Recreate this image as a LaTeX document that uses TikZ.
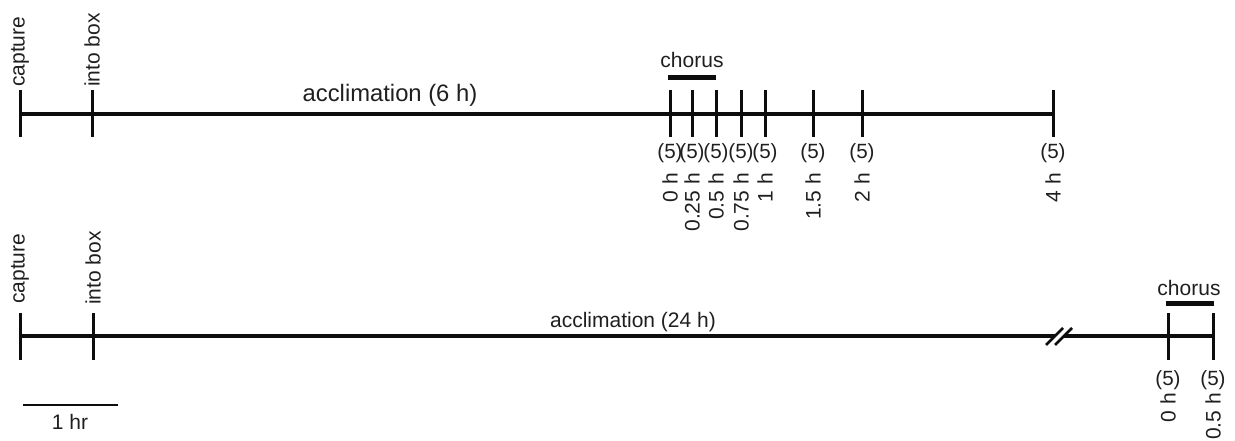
\documentclass[tikz,border=0pt]{standalone}
\usepackage{fontspec}
\setmainfont{Liberation Sans}
\begin{document}
\begin{tikzpicture}[x=1pt,y=-1pt,
  ink/.style={draw=black!95},
  axis/.style={ink,line width=3.2pt},
  tickmark/.style={ink,line width=3pt},
  bar/.style={ink,line width=5pt},
  scalebar/.style={ink,line width=2.2pt},
  brk/.style={ink,line width=2.8pt},
  lbl/.style={text=black!88,font=\fontsize{21}{25}\selectfont,inner sep=0pt},
  biglbl/.style={lbl,font=\fontsize{23.8}{28}\selectfont},
  vlbl/.style={lbl,rotate=90},
  count/.style={lbl,anchor=base,font=\fontsize{20.6}{25}\selectfont},
  tlbl/.style={vlbl,anchor=east}]
\useasboundingbox (0,0) rectangle (1235,441);

% ---------- upper timeline: 6 h acclimation ----------
\coordinate (uA) at (20,114);
\coordinate (uB) at (1053,114);
\draw[axis] (uA) -- (uB);
\foreach \x in {20,92,670,692,716,741,765,813,862,1053}
  \draw[tickmark] (\x,90) -- (\x,137);

\node[vlbl,anchor=west] (ucap) at (20,87) {capture};
\node[vlbl,anchor=west] (ubox) at (92,87) {into box};
\node[biglbl,anchor=base] (uacc) at (390,101.5) {acclimation (6 h)};

\coordinate (uch0) at (668,78);
\coordinate (uch1) at (716,78);
\draw[bar] (uch0) -- (uch1);
\node[lbl,anchor=base] (uchorus) at (692,68) {chorus};

\foreach \x/\t [count=\i] in {670/0 h,692/0.25 h,716/0.5 h,741/0.75 h,765/1 h,813/1.5 h,862/2 h,1053/4 h}{
  \node[count] (un\i) at (\x,159) {(5)};
  \node[tlbl] (ut\i) at (\x,173) {\t};
}

% ---------- lower timeline: 24 h acclimation ----------
\coordinate (lA) at (20,336);
\coordinate (lB1) at (1054.5,336);
\coordinate (lB2) at (1063.5,336);
\coordinate (lC) at (1213,336);
\draw[axis] (lA) -- (lB1);
\draw[axis] (lB2) -- (lC);
% axis break
\draw[brk] (1046,345) -- (1063,328);
\draw[brk] (1055,345) -- (1072,328);

\foreach \x in {20,93,1168,1213}
  \draw[tickmark] (\x,313) -- (\x,360);

\node[vlbl,anchor=west] (lcap) at (20,304) {capture};
\node[vlbl,anchor=west] (lbox) at (93,305) {into box};
\node[lbl,anchor=base] (lacc) at (633,327) {acclimation (24 h)};

\coordinate (lch0) at (1166,303);
\coordinate (lch1) at (1214,303);
\draw[bar] (lch0) -- (lch1);
\node[lbl,anchor=base] (lchorus) at (1189,295) {chorus};

\foreach \x/\t [count=\i] in {1168/0 h,1213/0.5 h}{
  \node[count] (ln\i) at (\x,385) {(5)};
  \node[tlbl] (lt\i) at (\x,393) {\t};
}

% ---------- scale bar ----------
\coordinate (s0) at (23,405);
\coordinate (s1) at (118,405);
\draw[scalebar] (s0) -- (s1);
\node[lbl,anchor=base] (slbl) at (70,429) {1 hr};
\end{tikzpicture}
\end{document}
